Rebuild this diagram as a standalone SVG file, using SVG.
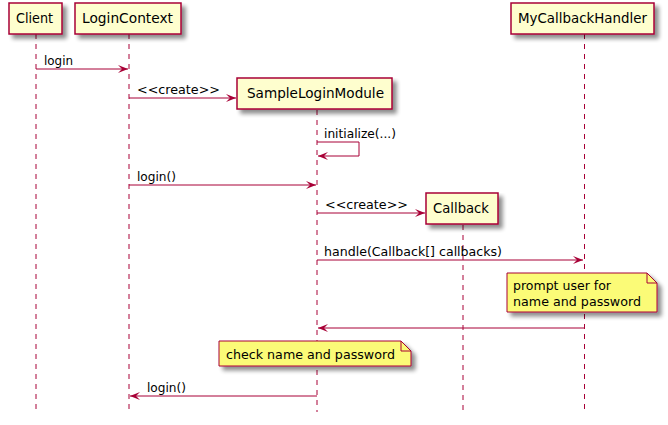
<svg xmlns="http://www.w3.org/2000/svg" width="668" height="425" viewBox="0 0 668 425">
<defs>
<filter id="sh" x="-10%" y="-10%" width="130%" height="150%">
<feGaussianBlur in="SourceAlpha" stdDeviation="2"/>
<feOffset dx="4" dy="4" result="b"/>
<feComponentTransfer><feFuncA type="linear" slope="0.45"/></feComponentTransfer>
<feMerge><feMergeNode/><feMergeNode in="SourceGraphic"/></feMerge>
</filter>
<marker id="ah" viewBox="0 0 10 8" refX="10" refY="4" markerWidth="10" markerHeight="8" markerUnits="userSpaceOnUse" orient="auto">
<polygon points="0,0 10,4 0,8 4,4" fill="#A80036"/>
</marker>
</defs>
<style>
text{font-family:"DejaVu Sans","Liberation Sans",sans-serif;fill:#000}
.p{font-size:14px}
.m{font-size:13px}
.box{fill:#FEFECE;stroke:#A80036;stroke-width:1.5}
.life{stroke:#A80036;stroke-width:1;stroke-dasharray:5,5;fill:none}
.msg{stroke:#A80036;stroke-width:1;fill:none;marker-end:url(#ah)}
.note{fill:#FBFB77;stroke:#A80036;stroke-width:1}
</style>
<rect width="668" height="425" fill="#fff"/>
<g id="lifelines">
<line class="life" x1="36" y1="34" x2="36" y2="412"/>
<line class="life" x1="129" y1="34" x2="129" y2="412"/>
<line class="life" x1="317" y1="110" x2="317" y2="412"/>
<line class="life" x1="463" y1="225" x2="463" y2="412"/>
<line class="life" x1="584.5" y1="34" x2="584.5" y2="412"/>
</g>
<g id="Client">
<rect class="box" x="9" y="3" width="53" height="31" filter="url(#sh)"/>
<text class="p" x="16" y="23" textLength="37" lengthAdjust="spacingAndGlyphs">Client</text>
</g>
<g id="LoginContext">
<rect class="box" x="75" y="3" width="106" height="31" filter="url(#sh)"/>
<text class="p" x="82" y="23" textLength="91" lengthAdjust="spacingAndGlyphs">LoginContext</text>
</g>
<g id="SampleLoginModule">
<rect class="box" x="237" y="78" width="155" height="31" filter="url(#sh)"/>
<text class="p" x="247" y="98" textLength="137" lengthAdjust="spacingAndGlyphs">SampleLoginModule</text>
</g>
<g id="Callback">
<rect class="box" x="426" y="193" width="72" height="31" filter="url(#sh)"/>
<text class="p" x="433" y="213" textLength="56" lengthAdjust="spacingAndGlyphs">Callback</text>
</g>
<g id="MyCallbackHandler">
<rect class="box" x="511" y="3" width="143" height="31" filter="url(#sh)"/>
<text class="p" x="518" y="23" textLength="129" lengthAdjust="spacingAndGlyphs">MyCallbackHandler</text>
</g>
<g id="connectors">
<line class="msg" x1="36" y1="69" x2="128" y2="69"/>
<text class="m" x="44" y="65" textLength="29" lengthAdjust="spacingAndGlyphs">login</text>
<line class="msg" x1="129" y1="98" x2="236" y2="98"/>
<text class="m" x="137" y="94" textLength="83" lengthAdjust="spacingAndGlyphs">&lt;&lt;create&gt;&gt;</text>
<polyline class="msg" points="317,142 359,142 359,156 318,156"/>
<text class="m" x="324" y="138" textLength="72" lengthAdjust="spacingAndGlyphs">initialize(...)</text>
<line class="msg" x1="129" y1="185" x2="316" y2="185"/>
<text class="m" x="137" y="181" textLength="39" lengthAdjust="spacingAndGlyphs">login()</text>
<line class="msg" x1="317" y1="213" x2="425" y2="213"/>
<text class="m" x="325" y="209" textLength="83" lengthAdjust="spacingAndGlyphs">&lt;&lt;create&gt;&gt;</text>
<line class="msg" x1="317" y1="260" x2="583" y2="260"/>
<text class="m" x="324" y="256" textLength="178" lengthAdjust="spacingAndGlyphs">handle(Callback[] callbacks)</text>
<line class="msg" x1="584" y1="328" x2="318" y2="328"/>
<line class="msg" x1="317" y1="396" x2="130" y2="396"/>
<text class="m" x="147" y="392" textLength="39" lengthAdjust="spacingAndGlyphs">login()</text>
</g>
<g id="note1">
<path class="note" d="M507,273 L647,273 L657,283 L657,312 L507,312 Z" filter="url(#sh)"/>
<path d="M647,273 L647,283 L657,283" fill="none" stroke="#A80036" stroke-width="1"/>
<text class="m" x="513" y="290" textLength="98" lengthAdjust="spacingAndGlyphs">prompt user for</text>
<text class="m" x="513" y="306" textLength="128" lengthAdjust="spacingAndGlyphs">name and password</text>
</g>
<g id="note2">
<path class="note" d="M219,341 L401,341 L411,351 L411,366 L219,366 Z" filter="url(#sh)"/>
<path d="M401,341 L401,351 L411,351" fill="none" stroke="#A80036" stroke-width="1"/>
<text class="m" x="226" y="359" textLength="169" lengthAdjust="spacingAndGlyphs">check name and password</text>
</g>
</svg>
